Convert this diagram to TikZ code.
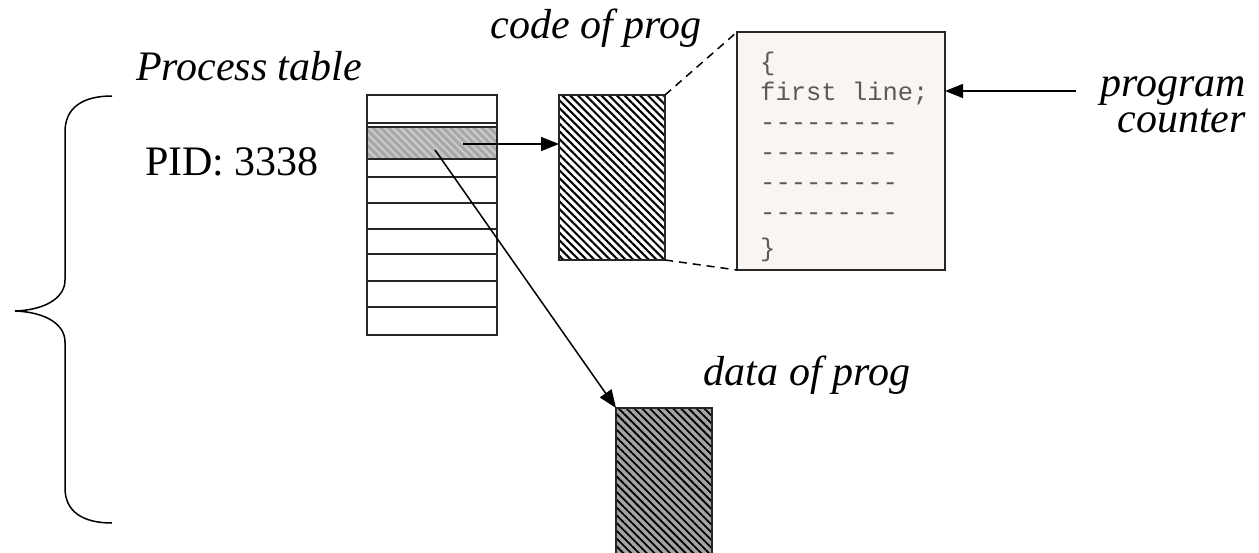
\documentclass[tikz,border=0pt]{standalone}
\usepackage{fontspec}
\setmainfont{Liberation Serif}
\newfontfamily\codefont{Liberation Mono}
\usetikzlibrary{arrows.meta,patterns.meta,calc}

\definecolor{hatchgray}{HTML}{A4A4A4}
\definecolor{rowgray}{HTML}{A8A8A8}
\definecolor{rowstripe}{HTML}{CACACA}
\definecolor{paper}{HTML}{F9F5F3}
\definecolor{codeink}{HTML}{5A5A5A}

\begin{document}
\begin{tikzpicture}[x=1pt,y=-1pt,
  box/.style={draw=black!85, line width=1.6pt, inner sep=0pt, outer sep=0pt, anchor=north west},
  link/.style={line width=1.5pt, -{Triangle[length=18pt,width=14pt]}},
  title/.style={font=\fontsize{42}{36}\selectfont\itshape, inner sep=0pt, anchor=base},
  plain/.style={font=\fontsize{42}{36}\selectfont, inner sep=0pt, anchor=base},
  codeline/.style={font=\codefont\fontsize{25.5}{28}\selectfont, text=codeink, anchor=base west, inner sep=0pt},
  rowline/.style={line width=1.6pt, draw=black!85},
]
\useasboundingbox (0,0) rectangle (1259,552);

% curly brace grouping the process
\draw[line width=1.5pt] (112,96) .. controls (82,96) and (65,108) .. (65,132)
  -- (65,280) .. controls (65,298) and (45,310) .. (15,311)
  .. controls (45,312) and (65,324) .. (65,342)
  -- (65,488) .. controls (65,511) and (82,523) .. (112,523);

% process table with its selected (hatched) entry
\node[box, minimum width=130pt, minimum height=240pt] (table) at (367,95) {};
\fill[pattern={Lines[angle=-45,distance=5.5pt,line width=2.2pt]}, pattern color=rowstripe,
      preaction={fill=rowgray}] (367,127) rectangle (497,159);
\foreach \yy in {123,127,159,177,203,229,254,281,307}
  \draw[rowline] (367,\yy) -- (497,\yy);
\node[box, minimum width=130pt, minimum height=240pt] (tableframe) at (367,95) {};

% code and data segments
\node[box, minimum width=106pt, minimum height=165pt,
      preaction={fill=white}, pattern={Lines[angle=-45,distance=5.5pt,line width=2.1pt]}, pattern color=black]
      (code) at (559,95) {};
\node[box, minimum width=96pt, minimum height=160pt,
      preaction={fill=hatchgray}, pattern={Lines[angle=-45,distance=5.5pt,line width=1.8pt]}, pattern color=black]
      (data) at (616,408) {};

% magnified listing of the code segment
\node[box, fill=paper, minimum width=208pt, minimum height=238pt] (listing) at (737,32) {};
\draw[line width=1.5pt, dash pattern=on 8pt off 6pt] (code.north east) -- (listing.north west);
\draw[line width=1.5pt, dash pattern=on 8pt off 6pt] (code.south east) -- (listing.south west);

\node[codeline] (l1) at (760,70) {\{};
\node[codeline] (l2) at (760,100) {first line;};
\node[codeline] (l3) at (760,130) {-{}-{}-{}-{}-{}-{}-{}-{}-};
\node[codeline] (l4) at (760,160) {-{}-{}-{}-{}-{}-{}-{}-{}-};
\node[codeline] (l5) at (760,190) {-{}-{}-{}-{}-{}-{}-{}-{}-};
\node[codeline] (l6) at (760,220) {-{}-{}-{}-{}-{}-{}-{}-{}-};
\node[codeline] (l7) at (760,256) {\}};

% labels
\node[title] (proctitle) at (249,80) {Process table};
\node[plain] (pid) at (232,175) {PID: 3338};
\node[title] (codetitle) at (596,38) {code of prog};
\node[title] (datatitle) at (807,385) {data of prog};
\node[title, align=right, anchor=base east] (pc) at (1246,132) {program\\counter};

% pointers
\coordinate (rowA) at (463,144);
\coordinate (rowB) at (435,150);
\coordinate (pcstart) at (1076,91);
\draw[link] (rowA) -- (code.west |- rowA);
\draw[link] (rowB) -- (data.north west);
\draw[link] (pcstart) -- (listing.east |- pcstart);
\end{tikzpicture}
\end{document}
